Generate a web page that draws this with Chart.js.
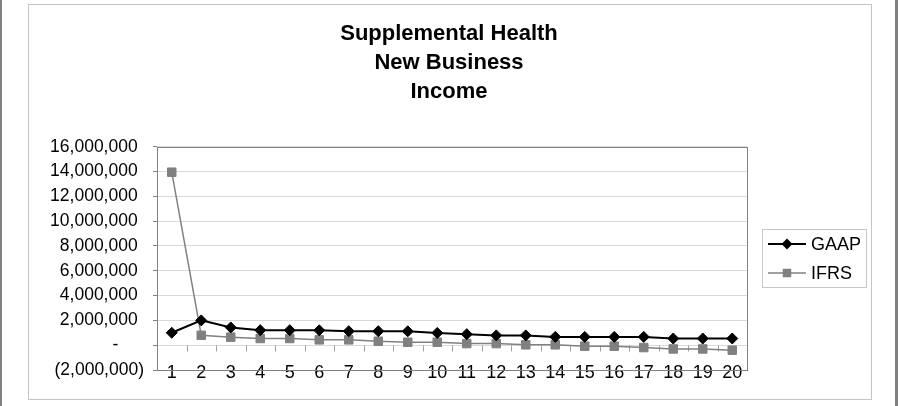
<!DOCTYPE html>
<html>
<head>
<meta charset="utf-8">
<script src="https://cdn.jsdelivr.net/npm/chart.js@4.4.0/dist/chart.umd.min.js"></script>
<style>
  html, body { margin: 0; padding: 0; background: #fff; }
  #wrap { width: 898px; height: 406px; }
</style>
</head>
<body>
<div id="wrap"><canvas id="incomeChart"></canvas></div>
<script>
// data
const years = ['1', '2', '3', '4', '5', '6', '7', '8', '9', '10',
  '11', '12', '13', '14', '15', '16', '17', '18', '19', '20'];
const gaapIncome = [1000000, 2000000, 1430000, 1210000, 1210000, 1200000, 1130000, 1130000, 1120000, 990000,
  890000, 790000, 790000, 670000, 670000, 670000, 670000, 540000, 540000, 540000];
const ifrsIncome = [13950000, 800000, 650000, 540000, 540000, 430000, 430000, 320000, 240000, 240000,
  130000, 130000, 30000, 30000, -80000, -80000, -190000, -300000, -300000, -400000];
const yMin = -2000000;
const yMax = 16000000;
const yStep = 2000000;

const FONT = "'Liberation Sans', Arial, sans-serif";

// Excel accounting style labels: 16,000,000 / - / (2,000,000)
const fmtTick = v => {
  if (v === 0) return '-\u2007\u2007 \u200A';
  const s = Math.abs(v).toLocaleString('en-US');
  return v < 0 ? '(' + s + ')' : s + ' \u200A';
};

// page frame + plot border
const framePlugin = {
  id: 'frame',
  beforeDraw(chart) {
    const c = chart.ctx;
    c.save();
    c.fillStyle = '#fff';
    c.fillRect(0, 0, chart.width, chart.height);
    c.fillStyle = '#808080';
    c.fillRect(0, 0, 2, chart.height);
    c.fillRect(chart.width - 3, 0, 3, chart.height);
    c.strokeStyle = '#c4c4c4';
    c.lineWidth = 1;
    c.strokeRect(28.5, 4.5, 843, 395);
    c.restore();
  },
  beforeDatasetsDraw(chart) {
    const c = chart.ctx;
    const a = chart.chartArea;
    const y0 = Math.round(chart.scales.y.getPixelForValue(0)) + 0.5;
    const step = (a.right - a.left) / years.length;
    c.save();
    c.strokeStyle = '#a0a0a0';
    c.lineWidth = 1;
    c.beginPath();
    for (let i = 1; i < years.length; i++) {
      const x = Math.round(a.left + i * step) + 0.5;
      c.moveTo(x, y0);
      c.lineTo(x, y0 + 6);
    }
    c.stroke();
    c.strokeStyle = '#808080';
    c.strokeRect(Math.round(a.left) + 0.5, Math.round(a.top) + 0.5,
      Math.round(a.right - a.left), Math.round(a.bottom - a.top));
    c.restore();
  }
};

// legend box: line sample with marker in the middle
const legendPlugin = {
  id: 'boxLegend',
  afterDraw(chart) {
    const c = chart.ctx;
    const bx = 762, by = 229, bw = 104, bh = 58;
    c.save();
    c.fillStyle = '#fff';
    c.fillRect(bx, by, bw, bh);
    c.strokeStyle = '#c8c8c8';
    c.lineWidth = 1;
    c.strokeRect(bx + 0.5, by + 0.5, bw, bh);
    chart.data.datasets.forEach((ds, i) => {
      const y = by + 15 + i * 29;
      c.strokeStyle = ds.borderColor;
      c.lineWidth = ds.borderWidth;
      c.beginPath();
      c.moveTo(bx + 6, y);
      c.lineTo(bx + 44, y);
      c.stroke();
      c.fillStyle = ds.pointBackgroundColor;
      const mx = bx + 25;
      c.beginPath();
      if (ds.pointStyle === 'rectRot') {
        const r = ds.pointRadius;
        c.moveTo(mx - r, y);
        c.lineTo(mx, y - r);
        c.lineTo(mx + r, y);
        c.lineTo(mx, y + r);
        c.closePath();
      } else {
        const h = ds.pointRadius * Math.SQRT1_2;
        c.rect(mx - h, y - h, 2 * h, 2 * h);
      }
      c.fill();
      c.fillStyle = '#000';
      c.font = '18px ' + FONT;
      c.textBaseline = 'middle';
      c.textAlign = 'left';
      c.fillText(ds.label, bx + 49, y + 1);
    });
    c.restore();
  }
};

new Chart(document.getElementById('incomeChart'), {
  type: 'line',
  data: {
    labels: years,
    datasets: [
      {
        label: 'GAAP',
        data: gaapIncome,
        borderColor: '#000',
        backgroundColor: '#000',
        borderWidth: 2,
        pointStyle: 'rectRot',
        pointRadius: 5.5,
        pointBackgroundColor: '#000',
        pointBorderColor: '#000',
        pointBorderWidth: 1,
        tension: 0
      },
      {
        label: 'IFRS',
        data: ifrsIncome,
        borderColor: '#808080',
        backgroundColor: '#808080',
        borderWidth: 1.5,
        pointStyle: 'rect',
        pointRadius: 6,
        pointBackgroundColor: '#808080',
        pointBorderColor: '#808080',
        pointBorderWidth: 1,
        tension: 0
      }
    ]
  },
  options: {
    responsive: true,
    maintainAspectRatio: false,
    animation: false,
    layout: { padding: 0 },
    plugins: {
      legend: { display: false },
      tooltip: { enabled: false },
      title: {
        display: true,
        text: ['Supplemental Health', 'New Business', 'Income'],
        color: '#000',
        font: { family: FONT, size: 22, weight: 'bold', lineHeight: 1.33 },
        padding: { top: 19, bottom: 40 }
      }
    },
    scales: {
      x: {
        offset: true,
        grid: { display: false },
        border: { display: false },
        ticks: {
          color: '#000',
          font: { family: FONT, size: 18 },
          padding: -16,
          maxRotation: 0,
          autoSkip: false
        },
        afterFit(scale) {
          scale.height = 36;
          // labels sit across the plot's bottom edge, so don't clip them to the axis box
          scale._computeLabelArea = () => undefined;
        }
      },
      y: {
        min: yMin,
        max: yMax,
        border: { display: false },
        grid: {
          color: '#d9d9d9',
          lineWidth: 1,
          drawTicks: true,
          tickLength: 4,
          tickColor: '#808080'
        },
        ticks: {
          stepSize: yStep,
          color: '#000',
          font: { family: FONT, size: 17.5 },
          padding: 9,
          callback: fmtTick
        },
        afterFit(scale) { scale.width = 157; }
      },
      // empty right-hand strip that holds the legend area
      side: {
        position: 'right',
        display: true,
        grid: { display: false },
        border: { display: false },
        ticks: { display: false },
        afterFit(scale) { scale.width = 151; }
      }
    }
  },
  plugins: [framePlugin, legendPlugin]
});
</script>
</body>
</html>
